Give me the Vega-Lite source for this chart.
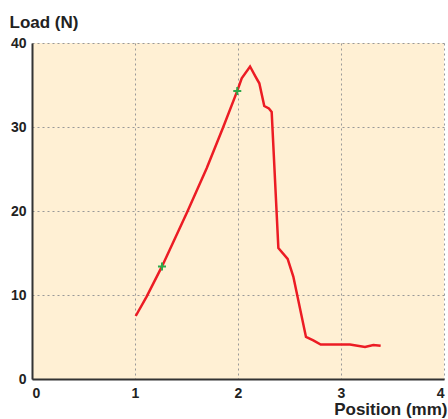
{
  "$schema": "https://vega.github.io/schema/vega-lite/v6.json",
  "autosize": "none",
  "width": 412,
  "height": 336,
  "padding": {"left": 32, "top": 43, "right": 4, "bottom": 40},
  "background": "white",
  "config": {
    "view": {"fill": "#FFF0D4", "stroke": null},
    "font": "Liberation Sans"
  },
  "datasets": {
    "curve": [
      {"pos": 1.007, "load": 7.5},
      {"pos": 1.113, "load": 9.8},
      {"pos": 1.262, "load": 13.4},
      {"pos": 1.508, "load": 19.9},
      {"pos": 1.696, "load": 25.1},
      {"pos": 1.857, "load": 30.0},
      {"pos": 1.993, "load": 34.3},
      {"pos": 2.036, "load": 35.8},
      {"pos": 2.117, "load": 37.2},
      {"pos": 2.17, "load": 36.0},
      {"pos": 2.207, "load": 35.2},
      {"pos": 2.255, "load": 32.5},
      {"pos": 2.3, "load": 32.2},
      {"pos": 2.327, "load": 31.8},
      {"pos": 2.392, "load": 15.6},
      {"pos": 2.482, "load": 14.3},
      {"pos": 2.537, "load": 12.2},
      {"pos": 2.66, "load": 5.0},
      {"pos": 2.731, "load": 4.6},
      {"pos": 2.803, "load": 4.1},
      {"pos": 3.087, "load": 4.1},
      {"pos": 3.233, "load": 3.8},
      {"pos": 3.314, "load": 4.05},
      {"pos": 3.385, "load": 3.95}
    ],
    "marks": [
      {"pos": 1.262, "load": 13.4},
      {"pos": 1.993, "load": 34.3}
    ]
  },
  "layer": [
    {
      "data": {"name": "curve"},
      "mark": {"type": "line", "color": "#EC1C24", "strokeWidth": 2.5},
      "encoding": {
        "x": {
          "field": "pos", "type": "quantitative",
          "scale": {"domain": [0, 4], "nice": false},
          "axis": {
            "title": "Position (mm)",
            "values": [0, 1, 2, 3, 4],
            "format": "d",
            "ticks": false,
            "labelPadding": 7,
            "labelFont": "Liberation Sans", "labelFontWeight": "bold", "labelFontSize": 14, "labelColor": "#222",
            "domainColor": "#333", "domainWidth": 2,
            "grid": true, "gridColor": "#999", "gridDash": [2, 3], "gridWidth": 1,
            "titleFont": "Liberation Sans", "titleFontWeight": "bold", "titleFontSize": 17, "titleColor": "#222",
            "titleAnchor": null, "titleAlign": "right", "titleBaseline": "alphabetic",
            "titleX": 415, "titleY": 35
          }
        },
        "y": {
          "field": "load", "type": "quantitative",
          "scale": {"domain": [0, 40], "nice": false},
          "axis": {
            "title": "Load (N)",
            "values": [0, 10, 20, 30, 40],
            "ticks": false,
            "labelPadding": 6,
            "labelFont": "Liberation Sans", "labelFontWeight": "bold", "labelFontSize": 14, "labelColor": "#222",
            "domainColor": "#333", "domainWidth": 2,
            "grid": true, "gridColor": "#999", "gridDash": [2, 3], "gridWidth": 1,
            "titleFont": "Liberation Sans", "titleFontWeight": "bold", "titleFontSize": 17, "titleColor": "#222",
            "titleAngle": 0, "titleAnchor": null, "titleAlign": "left", "titleBaseline": "alphabetic",
            "titleX": -23, "titleY": -16
          }
        }
      }
    },
    {
      "data": {"name": "marks"},
      "mark": {"type": "point", "shape": "M-1,0L1,0M0,-1L0,1", "filled": false, "stroke": "#2EA84A", "strokeWidth": 2, "size": 64, "opacity": 1},
      "encoding": {
        "x": {"field": "pos", "type": "quantitative"},
        "y": {"field": "load", "type": "quantitative"}
      }
    }
  ]
}
